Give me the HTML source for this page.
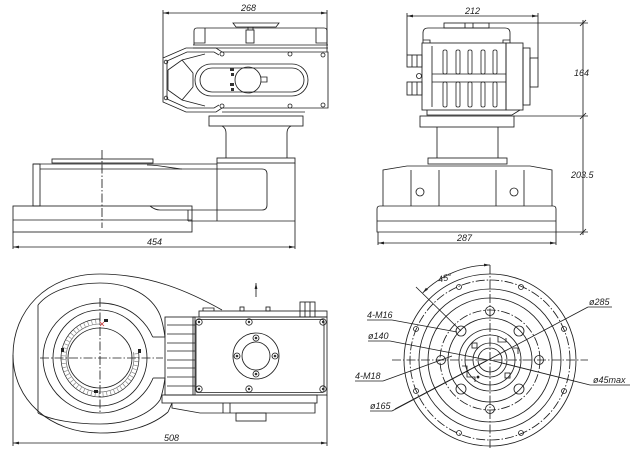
<!DOCTYPE html>
<html><head><meta charset="utf-8"><style>
html,body{margin:0;padding:0;background:#fff;}
svg{display:block;}
text{font-family:"Liberation Sans",sans-serif;font-style:italic;font-size:9px;fill:#222;stroke:none;}
</style></head><body>
<svg width="642" height="457" viewBox="0 0 642 457" xmlns="http://www.w3.org/2000/svg">
<defs>
<marker id="ae" markerWidth="6" markerHeight="4" refX="6" refY="2" orient="auto" markerUnits="userSpaceOnUse"><path d="M0,0.6 L6,2 L0,3.4 Z" fill="#222"/></marker>
<marker id="as" markerWidth="6" markerHeight="4" refX="0" refY="2" orient="auto" markerUnits="userSpaceOnUse"><path d="M6,0.6 L0,2 L6,3.4 Z" fill="#222"/></marker>
</defs>
<rect width="642" height="457" fill="#fff"/>
<g stroke="#1e1e1e" fill="none" stroke-width="0.85">

<!-- ================= TOP-LEFT VIEW ================= -->
<line x1="163" y1="13" x2="327" y2="13" marker-start="url(#as)" marker-end="url(#ae)"/>
<line x1="163" y1="10" x2="163" y2="58"/>
<line x1="327" y1="10" x2="327" y2="52"/>
<path d="M194,45 V31 Q194,28 197,28 H324 Q327,28 327,31 V45"/>
<line x1="193" y1="45" x2="328" y2="45"/>
<line x1="193" y1="48" x2="328" y2="48"/>
<path d="M205,28 V43 H194"/><path d="M316,28 V43 H327"/>
<rect x="246" y="30" width="8" height="13"/>
<path d="M233,23 H279 L276,27 H236 Z"/>
<line x1="248" y1="27" x2="248" y2="30"/><line x1="253" y1="27" x2="253" y2="30"/>
<path d="M163,58 L186,48 H216 L222,52 H328 V108 H222 L216,112 H186 L163,102 Z"/>
<path d="M167,61 L187,52 H214 L219,55"/>
<path d="M167,99 L187,108 H214 L219,105"/>
<line x1="167" y1="61" x2="167" y2="99"/>
<path d="M168,70 L182,60 L205,54"/>
<path d="M168,90 L182,100 L205,106"/>
<line x1="168" y1="70" x2="168" y2="90"/>
<line x1="182" y1="60" x2="193" y2="73"/><line x1="182" y1="100" x2="193" y2="87"/>
<line x1="193" y1="73" x2="193" y2="87"/>
<g stroke-width="0.8">
<circle cx="222" cy="54" r="2"/><circle cx="290" cy="54" r="2"/><circle cx="323" cy="55" r="2"/>
<circle cx="166" cy="62" r="1.8"/><circle cx="166" cy="98" r="1.8"/>
<circle cx="222" cy="106" r="2"/><circle cx="290" cy="106" r="2"/><circle cx="323" cy="105" r="2"/>
</g>
<rect x="195" y="64" width="113" height="32" rx="16"/>
<rect x="200" y="68" width="104" height="24" rx="12"/>
<circle cx="248" cy="80" r="13"/>
<path d="M261,77 H267 V82 H261"/>
<g fill="#333" stroke="none">
<rect x="230" y="68" width="4" height="3"/><rect x="231" y="73" width="3" height="3"/>
<rect x="230" y="83" width="4" height="3"/><rect x="231" y="88" width="3" height="3"/>
</g>
<line x1="222" y1="112" x2="305" y2="112"/>
<rect x="209" y="116" width="94" height="10"/>
<path d="M222,126 Q226,128 226,133 V158"/>
<path d="M291,126 Q287,128 287,133 V158"/>
<rect x="217" y="158" width="78" height="5"/>
<line x1="217" y1="163" x2="217" y2="221"/>
<line x1="295" y1="163" x2="295" y2="249"/>
<line x1="188" y1="221" x2="295" y2="221"/>
<rect x="52" y="159" width="101" height="4"/>
<line x1="33" y1="164" x2="217" y2="164"/>
<path d="M147,165 C160,165 170,168 182,169"/>
<rect x="33" y="164" width="7" height="42"/>
<path d="M40,169 H262 Q267,169 267,174 V205 Q267,210 262,210 H160 Q155,210 150,206"/>
<rect x="13" y="206" width="179" height="26"/>
<line x1="13" y1="220" x2="192" y2="220"/>
<line x1="188" y1="210" x2="188" y2="221"/>
<line x1="102" y1="150" x2="102" y2="228" stroke-dasharray="9 2 1.5 2"/>
<line x1="13" y1="232" x2="13" y2="249"/>
<line x1="13" y1="247" x2="295" y2="247" marker-start="url(#as)" marker-end="url(#ae)"/>

<!-- ================= TOP-RIGHT VIEW ================= -->
<line x1="407" y1="16" x2="538" y2="16" marker-start="url(#as)" marker-end="url(#ae)"/>
<line x1="407" y1="13" x2="407" y2="55"/>
<line x1="538" y1="13" x2="538" y2="58"/>
<rect x="444" y="23" width="45" height="5"/>
<line x1="465" y1="23" x2="465" y2="28"/><line x1="473" y1="23" x2="473" y2="28"/>
<line x1="489" y1="23" x2="588" y2="23"/>
<path d="M423,43 V33 Q423,28 428,28 H505 Q510,28 510,33 V43"/>
<path d="M423,40 H430 V43"/><path d="M510,40 H503 V43"/>
<rect x="422" y="43" width="84" height="67"/>
<line x1="432" y1="46" x2="432" y2="107"/>
<line x1="432" y1="74" x2="506" y2="74"/><line x1="432" y1="82" x2="506" y2="82"/>
<g stroke-width="0.8">
<rect x="443" y="50" width="4" height="24" rx="1.5"/><rect x="456" y="50" width="4" height="24" rx="1.5"/>
<rect x="468" y="50" width="4" height="24" rx="1.5"/><rect x="481" y="50" width="4" height="24" rx="1.5"/>
<rect x="493" y="50" width="4" height="24" rx="1.5"/>
<rect x="443" y="82" width="4" height="25" rx="1.5"/><rect x="456" y="82" width="4" height="25" rx="1.5"/>
<rect x="468" y="82" width="4" height="25" rx="1.5"/><rect x="481" y="82" width="4" height="25" rx="1.5"/>
<rect x="493" y="82" width="4" height="25" rx="1.5"/>
</g>
<rect x="506" y="43" width="17" height="67"/>
<rect x="523" y="48" width="7" height="57"/>
<rect x="530" y="58" width="8" height="29"/>
<rect x="407" y="55" width="15" height="12"/><line x1="412" y1="55" x2="412" y2="67"/><line x1="417" y1="55" x2="417" y2="67"/>
<rect x="407" y="82" width="15" height="13"/><line x1="412" y1="82" x2="412" y2="95"/><line x1="417" y1="82" x2="417" y2="95"/>
<circle cx="419" cy="76" r="2.5"/>
<path d="M427,110 V115 H512 L520,110"/>
<rect x="420" y="116" width="94" height="11"/>
<line x1="514" y1="116" x2="588" y2="116"/>
<line x1="437" y1="127" x2="437" y2="158"/><line x1="498" y1="127" x2="498" y2="158"/>
<rect x="428" y="158" width="79" height="6"/>
<path d="M383,206 V170 L407,166 H530 L552,170 V206"/>
<line x1="411" y1="170" x2="411" y2="206"/><line x1="439" y1="170" x2="439" y2="206"/>
<line x1="496" y1="170" x2="496" y2="206"/><line x1="524" y1="170" x2="524" y2="206"/>
<circle cx="420" cy="192" r="4"/><circle cx="514" cy="192" r="4"/>
<path d="M377,232 V209 Q377,206 380,206 H553 Q556,206 556,209 V232 Z"/>
<line x1="377" y1="221" x2="556" y2="221"/>
<line x1="378" y1="232" x2="378" y2="245"/><line x1="556" y1="232" x2="556" y2="245"/>
<line x1="556" y1="232" x2="588" y2="232"/>
<line x1="378" y1="243" x2="556" y2="243" marker-start="url(#as)" marker-end="url(#ae)"/>
<line x1="583" y1="20" x2="583" y2="235"/>
<line x1="580" y1="26" x2="586" y2="20"/><line x1="580" y1="119" x2="586" y2="113"/><line x1="580" y1="235" x2="586" y2="229"/>

<!-- ================= BOTTOM-LEFT VIEW ================= -->
<path d="M222,310 C190,292 150,274 100,274 C45,274 13,312 13,355 C13,400 50,433 100,433 C128,433 152,426 168,412"/>
<line x1="38" y1="305" x2="38" y2="413"/>
<path d="M38,305 C50,290 75,283 100,283 C130,283 152,296 160,315 C163,323 164,330 165,337"/>
<path d="M38,413 C50,420 75,424 100,424 C128,424 150,414 160,400 C163,392 164,385 165,378"/>
<path d="M152.7,337 A57,55 0 1 0 153.1,378"/>
<line x1="152.7" y1="337" x2="165" y2="337"/><line x1="153.1" y1="378" x2="165" y2="378"/>
<ellipse cx="100" cy="358" rx="47" ry="48"/>
<path d="M100,319 A39,39 0 1 0 138.4,351.2" stroke-width="0.7"/>
<path d="M100,324 A34,34 0 1 0 133.5,352.2" stroke-width="0.6" stroke="#555"/>
<path d="M100,321.5 A36.5,36.5 0 1 0 136,351.7" stroke-width="4" stroke="#8a8a8a" stroke-dasharray="0.7 3.2"/>
<ellipse cx="100" cy="358" rx="32" ry="30"/>
<line x1="40" y1="358" x2="163" y2="358" stroke-dasharray="9 2 1.5 2"/>
<line x1="100" y1="298" x2="100" y2="413" stroke-dasharray="9 2 1.5 2"/>
<g fill="#222" stroke="none">
<rect x="104" y="319" width="4" height="3"/><rect x="138" y="349" width="3" height="4"/>
<rect x="94" y="390" width="4" height="3"/><rect x="61" y="348" width="3" height="4"/>
</g>
<path d="M100,322 L104,326 M104,322 L100,326" stroke="#c33" stroke-width="0.8"/>
<rect x="165" y="317" width="30" height="78"/>
<g stroke-width="0.8">
<line x1="167" y1="325" x2="195" y2="325"/><line x1="167" y1="334" x2="195" y2="334"/>
<line x1="167" y1="343" x2="195" y2="343"/><line x1="167" y1="351" x2="195" y2="351"/>
<line x1="167" y1="360" x2="195" y2="360"/><line x1="167" y1="368" x2="195" y2="368"/>
<line x1="167" y1="377" x2="195" y2="377"/><line x1="167" y1="386" x2="195" y2="386"/>
</g>
<rect x="193" y="317" width="134" height="78"/>
<rect x="196" y="319.5" width="128" height="73" rx="2"/>
<rect x="199" y="311" width="128" height="6"/>
<path d="M203,311 V308 H214 V311"/>
<rect x="240" y="307" width="4" height="4"/><rect x="266" y="307" width="4" height="4"/>
<rect x="300" y="302" width="15" height="15"/><line x1="305" y1="302" x2="305" y2="317"/><line x1="310" y1="302" x2="310" y2="317"/>
<g stroke-width="0.8">
<circle cx="199" cy="322" r="3.2"/><circle cx="249" cy="322" r="3.2"/><circle cx="323" cy="322" r="3.2"/>
<circle cx="199" cy="389" r="3.2"/><circle cx="249" cy="389" r="3.2"/><circle cx="323" cy="389" r="3.2"/>
</g>
<g fill="#333" stroke="none">
<circle cx="199" cy="322" r="1.2"/><circle cx="249" cy="322" r="1.2"/><circle cx="323" cy="322" r="1.2"/>
<circle cx="199" cy="389" r="1.2"/><circle cx="249" cy="389" r="1.2"/><circle cx="323" cy="389" r="1.2"/>
<circle cx="256" cy="338" r="1.3"/><circle cx="256" cy="374" r="1.3"/><circle cx="237" cy="356" r="1.3"/><circle cx="275" cy="356" r="1.3"/>
</g>
<circle cx="256" cy="356" r="23"/>
<circle cx="256" cy="356" r="14"/>
<circle cx="256" cy="338" r="3"/><circle cx="256" cy="374" r="3"/><circle cx="237" cy="356" r="3"/><circle cx="275" cy="356" r="3"/>
<rect x="162" y="395" width="155" height="8"/>
<path d="M168,412 L172,403 M172,403 V408 L200,413 H315 V403"/>
<line x1="223" y1="403" x2="223" y2="413"/><line x1="230" y1="403" x2="230" y2="413"/>
<rect x="236" y="413" width="30" height="8"/>
<line x1="327" y1="395" x2="327" y2="446"/>
<line x1="13" y1="355" x2="13" y2="446"/>
<line x1="13" y1="443" x2="327" y2="443" marker-start="url(#as)" marker-end="url(#ae)"/>
<line x1="256" y1="283" x2="256" y2="297" marker-start="url(#as)"/>

<!-- ================= BOTTOM-RIGHT VIEW ================= -->
<circle cx="490" cy="360" r="86"/>
<circle cx="490" cy="360" r="80" stroke-dasharray="9 2 1.5 2"/>
<circle cx="490" cy="360" r="71"/>
<circle cx="490" cy="360" r="62"/>
<circle cx="490" cy="360" r="50" stroke-dasharray="9 2 1.5 2"/>
<circle cx="490" cy="360" r="42"/>
<circle cx="490" cy="360" r="31"/>
<circle cx="490" cy="360" r="25"/>
<circle cx="490" cy="360" r="17"/>
<circle cx="490" cy="360" r="12"/>
<g stroke-width="0.8">
<circle cx="416" cy="329" r="2.5"/><circle cx="564" cy="329" r="2.5"/>
<circle cx="416" cy="391" r="2.5"/><circle cx="564" cy="391" r="2.5"/>
<circle cx="459" cy="287" r="2.5"/><circle cx="521" cy="287" r="2.5"/>
<circle cx="459" cy="433" r="2.5"/><circle cx="521" cy="433" r="2.5"/>
</g>
<circle cx="461" cy="331" r="5"/><circle cx="519" cy="331" r="5"/>
<circle cx="461" cy="389" r="5"/><circle cx="519" cy="389" r="5"/>
<circle cx="490" cy="311" r="4.5"/><circle cx="539" cy="360" r="4.5"/>
<circle cx="490" cy="409" r="4.5"/><circle cx="441" cy="360" r="4.5"/>
<rect x="472" y="343" width="5" height="5"/><rect x="505" y="373" width="5" height="5"/>
<path d="M498,336 V342 H506 V338"/>
<path d="M467,370 V377 H475 V382"/>
<path d="M513,348 H518 V354"/><path d="M462,366 H467 V372"/>
<circle cx="478" cy="377" r="1" fill="#222"/>
<line x1="392" y1="360" x2="588" y2="360" stroke-dasharray="9 2 1.5 2"/>
<line x1="490" y1="265" x2="490" y2="450" stroke-dasharray="9 2 1.5 2"/>
<path d="M422.8,292.8 A95,95 0 0 1 490,265" marker-start="url(#as)" marker-end="url(#ae)"/>
<line x1="416" y1="287" x2="461" y2="331"/>
<line x1="367" y1="320" x2="392" y2="320"/><line x1="392" y1="320" x2="457" y2="332"/>
<line x1="368" y1="341" x2="390" y2="341"/><line x1="390" y1="341" x2="488" y2="360"/>
<line x1="355" y1="381" x2="383" y2="381"/><line x1="383" y1="381" x2="452" y2="356"/>
<line x1="370" y1="411" x2="392" y2="411"/><line x1="392" y1="411" x2="588" y2="307"/>
<line x1="395" y1="409" x2="486" y2="361"/>
<line x1="588" y1="307" x2="612" y2="307"/>
<line x1="490" y1="360" x2="590" y2="385"/><line x1="590" y1="385" x2="630" y2="385"/>
</g>

<text x="241" y="11">268</text>
<text x="147" y="245">454</text>
<text x="465" y="14">212</text>
<text x="457" y="241">287</text>
<text x="574" y="76">164</text>
<text x="571" y="178">203.5</text>
<text x="164" y="441">508</text>
<text x="438" y="281" transform="rotate(-14 445 278)">45°</text>
<text x="367" y="318" font-size="8.5">4-M16</text>
<text x="368" y="339" font-size="8.5">ø140</text>
<text x="355" y="379" font-size="8.5">4-M18</text>
<text x="370" y="409" font-size="8.5">ø165</text>
<text x="589" y="305" font-size="8.5">ø285</text>
<text x="593" y="383" font-size="8.5">ø45max</text>
</svg>
</body></html>
